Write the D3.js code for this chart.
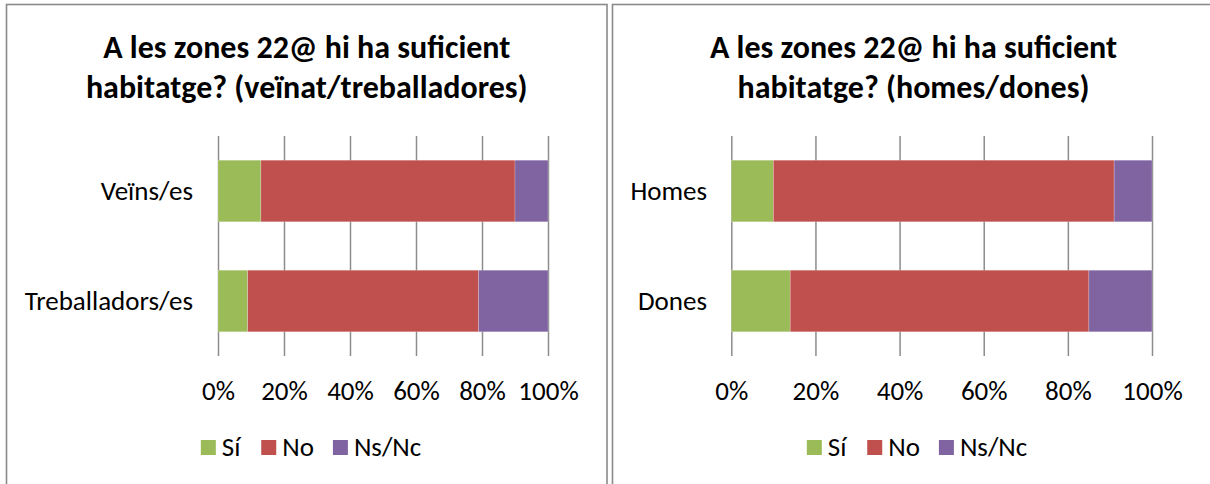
<!DOCTYPE html>
<html>
<head>
<meta charset="utf-8">
<script src="https://cdn.jsdelivr.net/npm/d3@7"></script>
<style>
  html, body { margin: 0; padding: 0; background: #fff; }
  svg { display: block; }
  text { font-family: Carlito, Calibri, Lato, "Open Sans", sans-serif; fill: #000; }
</style>
</head>
<body>
<svg id="chart" width="1210" height="484"></svg>
<script>
// ---- data ----
const seriesNames = ["Sí", "No", "Ns/Nc"];
const seriesColors = ["#9BBB59", "#C0504D", "#8064A2"];
const tickValues = [0, 0.2, 0.4, 0.6, 0.8, 1.0];
const tickLabels = ["0%", "20%", "40%", "60%", "80%", "100%"];

const leftTitle = ["A les zones 22@ hi ha suficient", "habitatge? (veïnat/treballadores)"];
const leftCategories = ["Veïns/es", "Treballadors/es"];
const leftSi = [13, 9];
const leftNo = [77, 70];
const leftNs = [10, 21];

const rightTitle = ["A les zones 22@ hi ha suficient", "habitatge? (homes/dones)"];
const rightCategories = ["Homes", "Dones"];
const rightSi = [10, 14];
const rightNo = [81, 71];
const rightNs = [9, 15];

const svg = d3.select("#chart");
const FONT = "Carlito, Calibri, Lato, sans-serif";

function drawPanel(cfg) {
  const g = svg.append("g");
  // frame
  g.append("rect")
    .attr("x", cfg.frameX).attr("y", 4.5)
    .attr("width", cfg.frameW).attr("height", 520)
    .attr("fill", "none").attr("stroke", "#8a8a8a").attr("stroke-width", 1.6);

  // title
  const cx = cfg.frameX + cfg.frameW / 2;
  cfg.title.forEach((t, i) => {
    g.append("text")
      .attr("x", cx).attr("y", 58 + i * 40)
      .attr("text-anchor", "middle")
      .attr("font-weight", "bold")
      .attr("font-size", 32)
      .text(t);
  });

  const x = d3.scaleLinear().domain([0, 1]).range([cfg.x0, cfg.x1]);
  const y = d3.scaleBand().domain(cfg.categories).range([136, 356]).paddingInner(0.44).paddingOuter(0.22);

  // gridlines via axis
  const grid = g.append("g").attr("transform", "translate(0,356)")
    .call(d3.axisBottom(x).tickValues(tickValues).tickSize(-220).tickFormat(""));
  grid.select(".domain").remove();
  grid.selectAll("line").attr("stroke", "#8c8c8c").attr("stroke-width", 1.5);

  // stacked data
  const rows = cfg.categories.map((c, i) => {
    const total = cfg.si[i] + cfg.no[i] + cfg.ns[i];
    return { cat: c, "Sí": cfg.si[i] / total, "No": cfg.no[i] / total, "Ns/Nc": cfg.ns[i] / total };
  });
  const stack = d3.stack().keys(seriesNames)(rows);
  const color = d3.scaleOrdinal().domain(seriesNames).range(seriesColors);

  g.append("g").selectAll("g").data(stack).join("g")
    .attr("fill", d => color(d.key))
    .selectAll("rect").data(d => d).join("rect")
    .attr("x", d => x(d[0]))
    .attr("width", d => x(d[1]) - x(d[0]))
    .attr("y", d => y(d.data.cat))
    .attr("height", y.bandwidth())
    .attr("stroke", "rgba(255,255,255,0.35)")
    .attr("stroke-width", 0.6);

  // category labels
  const ya = g.append("g").attr("transform", `translate(${cfg.x0},0)`)
    .call(d3.axisLeft(y).tickSize(0).tickPadding(cfg.x0 - cfg.labelRight));
  ya.select(".domain").remove();
  ya.selectAll("text").attr("font-size", 27).attr("fill", "#000").style("font-family", FONT);

  // tick labels
  const xa = g.append("g").attr("transform", "translate(0,356)")
    .call(d3.axisBottom(x).tickValues(tickValues).tickSize(0).tickPadding(25)
      .tickFormat((d, i) => tickLabels[i]));
  xa.select(".domain").remove();
  xa.selectAll("text").attr("font-size", 27).attr("fill", "#000").style("font-family", FONT);

  // legend
  const leg = g.append("g");
  const items = leg.selectAll("g").data(seriesNames).join("g");
  items.append("rect").attr("width", 15).attr("height", 15).attr("y", 440)
    .attr("fill", d => color(d));
  items.append("text").attr("x", 21).attr("y", 456).attr("font-size", 27).text(d => d);
  let off = 0;
  items.each(function() {
    const w = this.getBBox().width;
    d3.select(this).attr("transform", `translate(${off},0)`);
    off += w + 19;
  });
  const totalW = off - 19;
  leg.attr("transform", `translate(${cfg.legendCenter - totalW / 2},0)`);
}

drawPanel({ frameX: 6.5, frameW: 600.5, title: leftTitle, categories: leftCategories,
  si: leftSi, no: leftNo, ns: leftNs, x0: 218, x1: 548, labelRight: 193, legendCenter: 311 });
drawPanel({ frameX: 612.5, frameW: 602, title: rightTitle, categories: rightCategories,
  si: rightSi, no: rightNo, ns: rightNs, x0: 731.3, x1: 1152, labelRight: 707, legendCenter: 917 });
</script>
</body>
</html>
